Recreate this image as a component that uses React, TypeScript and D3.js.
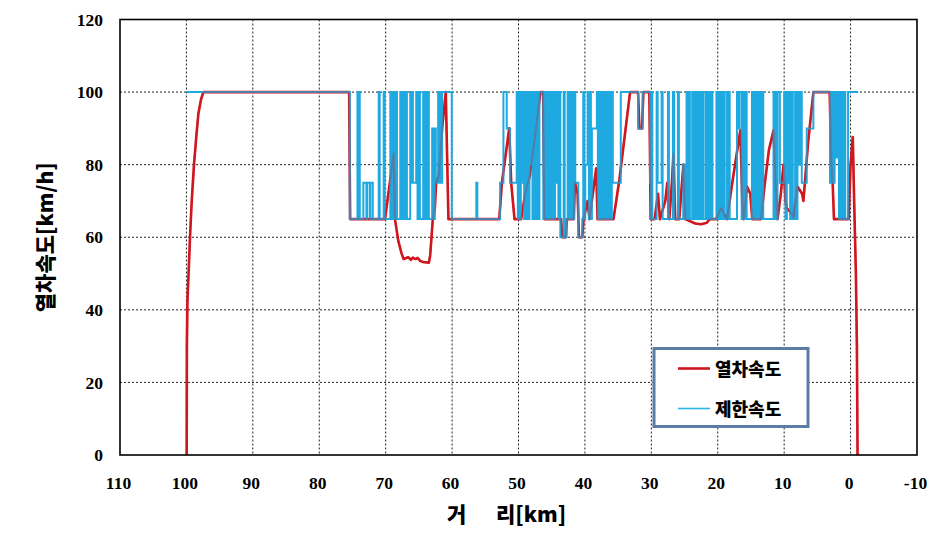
import React from "react";
import * as d3 from "d3";

const xTicks = [110, 100, 90, 80, 70, 60, 50, 40, 30, 20, 10, 0, -10];
const yTicks = [0, 20, 40, 60, 80, 100, 120];

// 제한속도 (speed limit): step breakpoints [km, km/h]
const speedLimit: [number, number][] = [
  [100, 100], [75.4, 65],
  [74.25, 100], [74.1, 65], [74.05, 100], [73.9, 65],
  [73.36, 75], [72.9, 65], [72.8, 75], [72.4, 65], [72.3, 75], [71.94, 65],
  [71.05, 100], [70.9, 65], [70.3, 100], [70.15, 65],
  [69.3, 100], [69.1, 65], [69.0, 100], [68.8, 65], [68.7, 100], [68.5, 65], [68.45, 100], [68.3, 65],
  [67.8, 100], [67.6, 65], [67.5, 100], [67.3, 65], [67.2, 100], [67.0, 65], [66.95, 100], [66.8, 65],
  [66.3, 100], [66.1, 75], [66.0, 100], [65.9, 75],
  [65.4, 100], [65.2, 65], [65.1, 100], [64.85, 65],
  [64.35, 100], [64.15, 65], [64.05, 100], [63.85, 65], [63.75, 100], [63.5, 65],
  [63.0, 90], [62.7, 65], [62.6, 90], [62.45, 75],
  [62.1, 100], [61.9, 75], [61.8, 100], [61.6, 75], [61.5, 100], [60.05, 65],
  [56.35, 75], [56.2, 65], [52.77, 75], [52.27, 100], [51.77, 90], [51.27, 75],
  [50.27, 100], [50.1, 65], [49.95, 100], [49.8, 65], [49.65, 100], [49.45, 75], [49.3, 100], [49.15, 65], [49.0, 100], [48.85, 65],
  [48.7, 100], [48.5, 65], [48.35, 100], [48.2, 80], [48.05, 100], [47.9, 65], [47.75, 100], [47.6, 65], [47.45, 100], [47.3, 65],
  [47.15, 100], [47.0, 65], [46.85, 100],
  [46.26, 65], [46.1, 100], [45.95, 65], [45.8, 100], [45.6, 65], [45.45, 100], [45.3, 65], [45.15, 100], [45.0, 65], [44.85, 100],
  [44.65, 65], [44.5, 100], [44.35, 75], [44.2, 100], [44.0, 65], [43.85, 100], [43.7, 60], [43.2, 100], [43.05, 60], [42.75, 65],
  [42.6, 100], [42.45, 65], [42.3, 100], [42.1, 65], [41.95, 100], [41.75, 65], [41.6, 100], [41.45, 75], [41.0, 60], [40.4, 65],
  [40.25, 100], [40.1, 65], [39.95, 80], [39.6, 100], [39.4, 65], [39.25, 100], [39.1, 65], [38.95, 90], [38.2, 100], [38.05, 65],
  [37.85, 100], [37.7, 65], [37.55, 100], [37.4, 65], [37.25, 100], [37.05, 65], [36.9, 100], [36.75, 65], [36.6, 100], [36.45, 65],
  [36.3, 100], [36.1, 65], [35.95, 100], [35.8, 75], [34.6, 100], [32.0, 90], [31.3, 100],
  [30.2, 75], [30.05, 65], [29.95, 100], [29.85, 65],
  [29.2, 100], [29.05, 75], [28.45, 100], [28.3, 65], [27.5, 100], [27.35, 65],
  [26.75, 100], [26.55, 65], [26.0, 100], [25.85, 65], [25.2, 80], [24.9, 65],
  [24.7, 100], [24.5, 65], [24.4, 100], [24.2, 65], [23.85, 100], [23.65, 65], [23.55, 100], [23.4, 65],
  [23.2, 100], [23.0, 65], [22.9, 100], [22.7, 65], [22.5, 100], [22.2, 65],
  [21.85, 100], [21.65, 65], [21.6, 100], [21.45, 65], [21.2, 100], [21.0, 65], [20.95, 100], [20.8, 65],
  [20.2, 100], [20.15, 65],
  [20.05, 100], [19.8, 65], [19.75, 100], [19.5, 65], [19.45, 100], [19.2, 65], [19.15, 100], [18.95, 65],
  [18.6, 100], [18.4, 65], [18.35, 100], [18.2, 65],
  [17.1, 100], [16.9, 90], [16.75, 100], [16.4, 65],
  [16.15, 100], [15.95, 65], [15.9, 100], [15.65, 65],
  [14.85, 100], [14.65, 65], [14.55, 100], [14.35, 65], [14.25, 100], [14.05, 65], [13.95, 100], [13.75, 65],
  [13.65, 100], [13.45, 65], [13.35, 100], [13.15, 65],
  [11.6, 100], [11.4, 65], [11.3, 100], [11.1, 65], [11.0, 100], [10.65, 75],
  [10.0, 100], [9.8, 65], [9.6, 100], [9.4, 75], [9.3, 100], [9.1, 65],
  [8.85, 100], [8.7, 65], [8.35, 100], [8.1, 65], [8.0, 100], [7.7, 80], [7.55, 100], [7.35, 75], [6.6, 90], [5.6, 100],
  [3.1, 75], [2.8, 100], [2.6, 75], [2.4, 100], [2.2, 82], [1.9, 100], [1.75, 65], [1.6, 100], [1.4, 65], [1.25, 100],
  [1.1, 65], [0.95, 100], [0.8, 65], [0.38, 100], [-1.15, 100],
];

// 열차속도 (train speed): [km, km/h]
const trainSpeed: [number, number][] = [
  [99.96, 0], [99.93, 30], [99.85, 42], [99.72, 48], [99.46, 60], [99.2, 70], [98.86, 80], [98.5, 88], [98.2, 94], [97.8, 98], [97.45, 100],
  [75.5, 100], [75.35, 65], [70.1, 65], [68.8, 83], [68.6, 65], [68.1, 59], [67.6, 55.5], [67.3, 54], [66.6, 54.5], [66.2, 53.8],
  [65.9, 54.4], [65.5, 54.0], [65.2, 54.3], [64.8, 53.5], [64.4, 53.2], [63.5, 53], [63.3, 55], [63.1, 60], [62.9, 65], [62.6, 68],
  [62.4, 75], [62.0, 77], [61.5, 90], [60.95, 100], [60.55, 65],
  [52.9, 65], [52.5, 75], [51.4, 90], [51.1, 75], [50.6, 65], [49.6, 65], [49.0, 72], [48.3, 77], [47.5, 88], [46.7, 100],
  [46.3, 100], [46.1, 65], [43.6, 65], [43.4, 60], [42.9, 60], [42.7, 65], [41.7, 65], [41.5, 75], [41.1, 72], [40.9, 60],
  [40.4, 60], [40.2, 65], [39.6, 70], [39.3, 65], [38.6, 75], [38.3, 79], [38.1, 65], [35.7, 65], [34.8, 76], [33.2, 100],
  [32.0, 100], [31.8, 90], [31.4, 90], [31.2, 100], [30.3, 100], [30.1, 65],
  [29.5, 65], [29.0, 72], [28.7, 65], [27.9, 70], [27.6, 75], [27.3, 65], [26.9, 75], [26.67, 83], [26.4, 65], [25.8, 65],
  [25.17, 80], [24.9, 65], [24.3, 64.5], [23.4, 63.8], [22.5, 63.6], [21.65, 64], [21.2, 65], [20.2, 65], [19.5, 68], [18.6, 65],
  [17.9, 74], [16.6, 89.5], [16.3, 70], [16.1, 65], [15.6, 74], [15.1, 72], [14.8, 65], [13.5, 65], [12.9, 75], [12.3, 84],
  [11.6, 89.5], [11.3, 75], [11.0, 65], [10.5, 72], [10.1, 80], [9.8, 70], [9.6, 68], [9.1, 67], [8.6, 65.5], [8.3, 70],
  [8.0, 74], [7.3, 72], [7.1, 70], [6.4, 86], [5.6, 100], [3.15, 100], [2.9, 80], [2.7, 75], [2.5, 65], [0.3, 65],
  [0.0, 80], [-0.33, 87.6], [-0.6, 65], [-0.8, 50], [-0.95, 30], [-1.05, 0],
];

const legendItems = [
  { label: "열차속도", color: "#d0161f" },
  { label: "제한속도", color: "#29b3e6" },
];

const W = 949;
const H = 538;
const L = 120, R = 917, T = 19.5, B = 455;

export default function App() {
  const x = d3.scaleLinear().domain([110, -10]).range([L, R]);
  const y = d3.scaleLinear().domain([0, 120]).range([B, T]);

  const stepLine = d3
    .line<[number, number]>()
    .x((d) => x(d[0]))
    .y((d) => y(d[1]))
    .curve(d3.curveStepAfter);
  const plainLine = d3
    .line<[number, number]>()
    .x((d) => x(d[0]))
    .y((d) => y(d[1]));

  const limitPath = stepLine(speedLimit) || "";
  const trainPath = plainLine(trainSpeed) || "";

  const serif = "'Liberation Serif', 'Times New Roman', serif";
  const kfont = "'Noto Sans CJK KR', 'Noto Sans', sans-serif";

  return (
    <svg
      width={W}
      height={H}
      style={{ position: "absolute", left: 0, top: 0, background: "#fff" }}
    >
      <defs>
        <clipPath id="plotClip">
          <rect x={L} y={T - 2} width={R - L} height={B - T + 2} />
        </clipPath>
      </defs>
      <rect x={0} y={0} width={W} height={H} fill="#fff" />

      {/* grid */}
      {xTicks.slice(1, -1).map((t) => (
        <line
          key={"gx" + t}
          x1={x(t)}
          x2={x(t)}
          y1={T}
          y2={B}
          stroke="#222"
          strokeWidth={1}
          strokeDasharray="2,2"
        />
      ))}
      {yTicks.slice(1, -1).map((t) => (
        <line
          key={"gy" + t}
          x1={L}
          x2={R}
          y1={y(t)}
          y2={y(t)}
          stroke="#222"
          strokeWidth={1}
          strokeDasharray="2,2"
        />
      ))}

      {/* series */}
      <g clipPath="url(#plotClip)">
        <path d={trainPath} fill="none" stroke="#d0161f" strokeWidth={2.6} strokeLinejoin="round" />
        <path d={limitPath} fill="none" stroke="#1ea9e1" strokeWidth={2} />
        <path d={trainPath} fill="none" stroke="#d0161f" strokeWidth={2} strokeOpacity={0.3} strokeLinejoin="round" />
      </g>

      {/* frame */}
      <rect x={L} y={T} width={R - L} height={B - T} fill="none" stroke="#000" strokeWidth={1.6} />

      {/* y tick labels */}
      {yTicks.map((t) => (
        <text
          key={"yl" + t}
          x={103}
          y={y(t)}
          dy="0.35em"
          textAnchor="end"
          fontFamily={serif}
          fontWeight="bold"
          fontSize={17.5}
          fill="#000"
        >
          {t}
        </text>
      ))}
      {/* x tick labels */}
      {xTicks.map((t) => (
        <text
          key={"xl" + t}
          x={x(t) - 1.5}
          y={488.5}
          textAnchor="middle"
          fontFamily={serif}
          fontWeight="bold"
          fontSize={17.5}
          fill="#000"
        >
          {t}
        </text>
      ))}

      {/* axis titles */}
      <text x={447} y={522} fontFamily={kfont} fontWeight="900" fontSize={21} fill="#000">
        거
      </text>
      <text x={496} y={522} fontFamily={kfont} fontWeight="900" fontSize={21} fill="#000">
        리[km]
      </text>
      <text
        transform={`translate(53, ${(T + B) / 2}) rotate(-90)`}
        textAnchor="middle"
        fontFamily={kfont}
        fontWeight="900"
        fontSize={21}
        fill="#000"
      >
        열차속도[km/h]
      </text>

      {/* legend */}
      <g>
        <rect x={654} y={348.5} width={154} height={78} fill="#fff" stroke="#5b7ca4" strokeWidth={3} />
        {legendItems.map((it, i) => (
          <g key={it.label} transform={`translate(0, ${i * 40})`}>
            <line x1={678} x2={710} y1={368.5} y2={368.5} stroke={it.color} strokeWidth={i === 0 ? 2.6 : 1.6} />
            <text x={715} y={376} fontFamily={kfont} fontWeight="900" fontSize={18} fill="#000">
              {it.label}
            </text>
          </g>
        ))}
      </g>
    </svg>
  );
}
